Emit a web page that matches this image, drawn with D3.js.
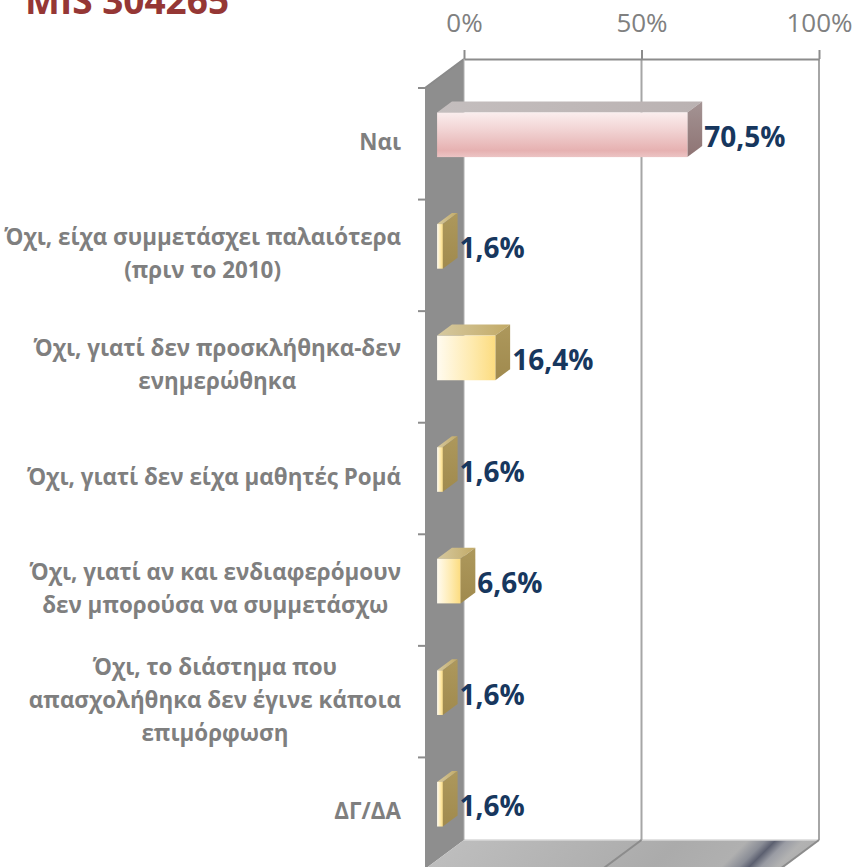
<!DOCTYPE html>
<html>
<head>
<meta charset="utf-8">
<script src="https://cdn.jsdelivr.net/npm/d3@7"></script>
<style>
  html, body { margin: 0; padding: 0; background: #fff; }
  svg { display: block; }
</style>
</head>
<body>
<svg id="chart" width="857" height="867"></svg>
<script>
// ---------------- data ----------------
const title = "MIS 304265";
const categories = [
  "Ναι",
  "Όχι, είχα συμμετάσχει παλαιότερα\n(πριν το 2010)",
  "Όχι, γιατί δεν προσκλήθηκα-δεν\nενημερώθηκα",
  "Όχι, γιατί δεν είχα μαθητές Ρομά",
  "Όχι, γιατί αν και ενδιαφερόμουν\nδεν μπορούσα να συμμετάσχω",
  "Όχι, το διάστημα που\nαπασχολήθηκα δεν έγινε κάποια\nεπιμόρφωση",
  "ΔΓ/ΔΑ"
];
const values = [0.705, 0.016, 0.164, 0.016, 0.066, 0.016, 0.016];
const tickValues = [0, 0.5, 1];
const tickLabels = ["0%", "50%", "100%"];

// ---------------- layout ----------------
const svg = d3.select("#chart");
const backX0 = 464, backX1 = 819, backTop = 59, backBottom = 840;
const depthDX = -39, depthDY = 29;          // from back plane to front plane
const frontX0 = backX0 + depthDX;           // 425
const frontTop = backTop + depthDY;         // 88
const frontBottom = backBottom + depthDY;   // 869

const xBack = d3.scaleLinear().domain([0, 1]).range([backX0, backX1]);
const w = d3.scaleLinear().domain([0, 1]).range([0, backX1 - backX0]);
const y = d3.scaleBand().domain(d3.range(categories.length))
  .range([frontTop, frontBottom]).paddingInner(0.6).paddingOuter(0.3);
const yBoundary = d3.scaleLinear().domain([0, categories.length]).range([frontTop, frontBottom]);

// bar depth fractions (0 = front plane, 1 = back plane)
const dFront = 0.31, dBack = 0.69;
const off = d => [-depthDX * d, -depthDY * d];

const locale = d3.formatLocale({decimal: ",", thousands: ".", grouping: [3], currency: ["", "€"]});
const pct = locale.format(".1%");

const defs = svg.append("defs");
function lin(id, x1, y1, x2, y2, stops, units) {
  const g = defs.append("linearGradient").attr("id", id)
    .attr("x1", x1).attr("y1", y1).attr("x2", x2).attr("y2", y2);
  if (units) g.attr("gradientUnits", units);
  stops.forEach(s => g.append("stop").attr("offset", s[0]).attr("stop-color", s[1]));
}
lin("pinkFront", 0, 0, 0, 1, [[0, "#fbeeee"], [0.45, "#f0cfcf"], [0.85, "#e6b1b1"], [1, "#ecc4c4"]]);
lin("pinkTop", 0, 0, 1, 0, [[0, "#c4bebe"], [1, "#bab2b2"]]);
lin("pinkSide", 0, 0, 0, 1, [[0, "#a49494"], [1, "#8e7373"]]);
lin("goldFront", 0, 0, 1, 0, [[0, "#fffbf0"], [0.6, "#feeaae"], [1, "#fcdc80"]]);
lin("goldTop", 0, 0, 1, 0, [[0, "#d6c9a0"], [1, "#c2aa66"]]);
lin("goldSide", 0, 0, 0, 1, [[0, "#ad985c"], [1, "#a08a4e"]]);
lin("floorGrad", 600, 700, 800, 900, [[0, "#bdbdbd"], [0.55, "#ababab"], [0.72, "#b0b0b0"], [0.765, "#8a8d96"], [0.79, "#5c6070"], [0.82, "#9a9ca4"], [0.86, "#b2b2b2"], [1, "#a8a8a8"]], "userSpaceOnUse");

// ---------------- walls ----------------
// left wall
svg.append("polygon")
  .attr("points", [[backX0, backTop], [backX0, backBottom], [frontX0, frontBottom], [frontX0, frontTop]].join(" "))
  .attr("fill", "#8e8e8e");
// floor
svg.append("polygon")
  .attr("points", [[backX0, backBottom], [backX1, backBottom], [backX1 + depthDX, frontBottom], [frontX0, frontBottom]].join(" "))
  .attr("fill", "url(#floorGrad)");
svg.append("line").attr("x1", backX0).attr("x2", backX1).attr("y1", backBottom).attr("y2", backBottom)
  .attr("stroke", "#d8d8d8").attr("stroke-width", 1.5);

// gridlines on back wall and floor
const grid = svg.append("g");
tickValues.filter(v => v > 0).forEach(v => {
  grid.append("line").attr("x1", xBack(v)).attr("x2", xBack(v)).attr("y1", backTop).attr("y2", backBottom)
    .attr("stroke", "#a6a6a6").attr("stroke-width", 2);
  grid.append("line").attr("x1", xBack(v)).attr("y1", backBottom)
    .attr("x2", xBack(v) + depthDX).attr("y2", frontBottom)
    .attr("stroke", "#8c8c8c").attr("stroke-width", 2);
});
// wall top edge
svg.append("line").attr("x1", backX0).attr("y1", backTop).attr("x2", frontX0).attr("y2", frontTop)
  .attr("stroke", "#8a8a8a").attr("stroke-width", 2);
svg.append("line").attr("x1", backX0).attr("y1", backTop).attr("x2", backX0).attr("y2", backBottom)
  .attr("stroke", "#b0b0b0").attr("stroke-width", 1);

// top value axis
const xAxis = d3.axisTop(xBack).tickValues(tickValues).tickFormat((d, i) => tickLabels[i])
  .tickSize(9).tickPadding(18).tickSizeOuter(0);
const ax = svg.append("g").attr("transform", `translate(0,${backTop})`).call(xAxis);
ax.select(".domain").attr("stroke", "#8c8c8c").attr("stroke-width", 2);
ax.selectAll(".tick line").attr("stroke", "#8c8c8c").attr("stroke-width", 2);
ax.selectAll(".tick text").attr("fill", "#808080")
  .style("font-family", "'Open Sans', sans-serif").style("font-size", "26px");

// category ticks on the front edge of the wall
svg.append("g").selectAll("line").data(d3.range(categories.length + 1)).join("line")
  .attr("x1", frontX0 - 7).attr("x2", frontX0)
  .attr("y1", d => yBoundary(d)).attr("y2", d => yBoundary(d))
  .attr("stroke", "#8c8c8c").attr("stroke-width", 2);

// ---------------- bars ----------------
const bars = svg.append("g");
values.forEach((v, i) => {
  const pink = i === 0;
  const [fx, fy] = off(dFront), [bx, by] = off(dBack);
  const x0 = frontX0 + fx, x1 = x0 + w(v);
  const y0 = y(i) + fy, y1 = y0 + y.bandwidth();
  const ddx = bx - fx, ddy = by - fy;
  const g = bars.append("g");
  // top face
  g.append("polygon").attr("points", [[x0, y0], [x1, y0], [x1 + ddx, y0 + ddy], [x0 + ddx, y0 + ddy]].join(" "))
    .attr("fill", pink ? "url(#pinkTop)" : "url(#goldTop)");
  // side face
  g.append("polygon").attr("points", [[x1, y0], [x1 + ddx, y0 + ddy], [x1 + ddx, y1 + ddy], [x1, y1]].join(" "))
    .attr("fill", pink ? "url(#pinkSide)" : "url(#goldSide)");
  // front face
  g.append("rect").attr("x", x0).attr("y", y0).attr("width", w(v)).attr("height", y.bandwidth())
    .attr("fill", pink ? "url(#pinkFront)" : "url(#goldFront)");
  // value label
  svg.append("text").attr("x", x1 + ddx + 2).attr("y", (y0 + y1) / 2 + 2).attr("dy", "0.36em")
    .attr("fill", "#17375e").style("font-family", "'Open Sans', sans-serif")
    .style("font-weight", "bold").style("font-size", "28px")
    .text(pct(v));
});

// ---------------- category labels ----------------
const labelRight = 401, lineH = 33;
categories.forEach((c, i) => {
  const lines = c.split("\n");
  const g = svg.append("g");
  const texts = lines.map((l, j) => g.append("text")
    .attr("y", y(i) + y.bandwidth() / 2 + (j - (lines.length - 1) / 2) * lineH - 2)
    .attr("dy", "0.36em")
    .attr("text-anchor", "middle")
    .attr("fill", "#7f7f7f")
    .style("font-family", "'Open Sans', sans-serif").style("font-weight", "bold").style("font-size", "22.4px")
    .text(l));
  const maxW = d3.max(texts, t => t.node().getComputedTextLength());
  texts.forEach(t => t.attr("x", labelRight - maxW / 2));
});

// ---------------- title ----------------
svg.append("text").attr("x", 25).attr("y", 14)
  .attr("fill", "#953735").style("font-family", "'Open Sans', sans-serif")
  .style("font-weight", "bold").style("font-size", "37px")
  .text(title);
</script>
</body>
</html>
